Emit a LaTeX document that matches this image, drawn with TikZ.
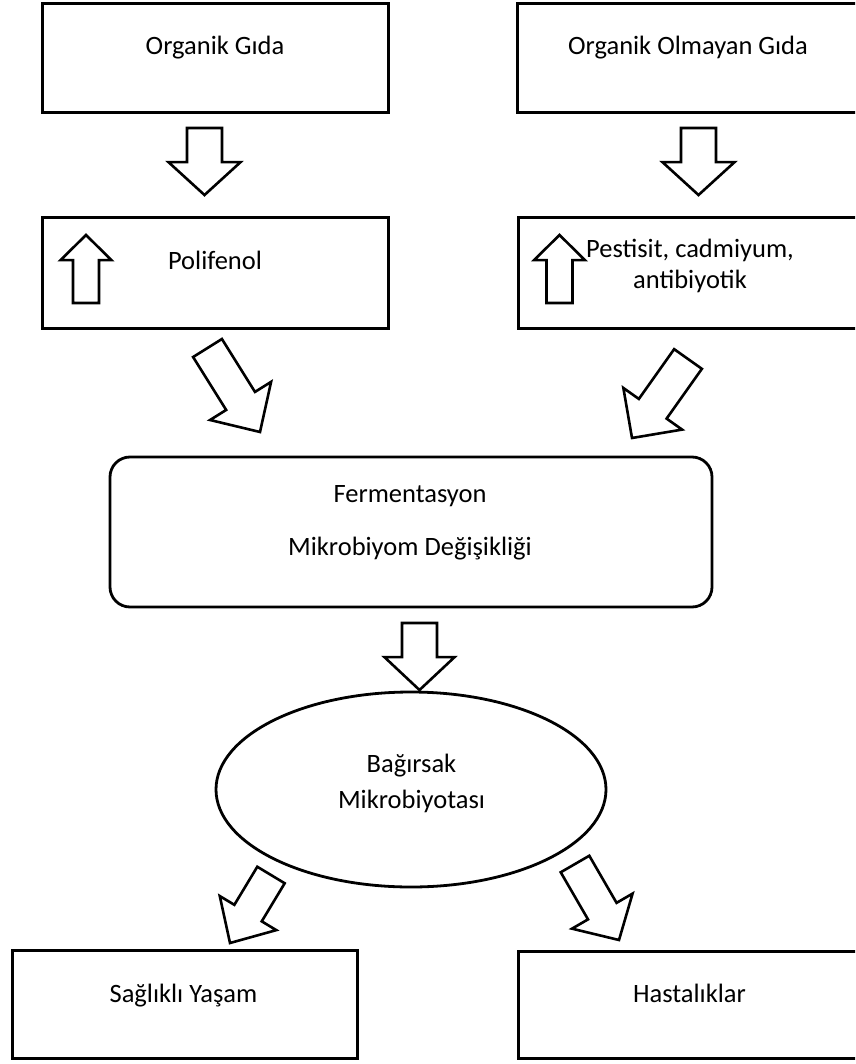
\documentclass[tikz,border=0pt]{standalone}
\usepackage{fontspec}
\setmainfont{Carlito}
\usetikzlibrary{positioning,calc,shapes.geometric}

% hollow block arrow from tail #1 to tip #2, neck at fraction #3, half widths #4 (shaft) and #5 (head)
\newcommand{\blockarrow}[5]{%
    \coordinate (#1n) at ($(#1)!#3!(#2)$);
    \draw[arrowline] ($(#1)!#4!90:(#2)$) -- ($(#1n)!#4!90:(#2)$) -- ($(#1n)!#5!90:(#2)$) -- (#2)
        -- ($(#1n)!#5!-90:(#2)$) -- ($(#1n)!#4!-90:(#2)$) -- ($(#1)!#4!-90:(#2)$) -- cycle;
}

\begin{document}
\begin{tikzpicture}[x=1pt,y=-1pt,
    box/.style={draw, line width=3pt, minimum width=346pt, minimum height=109pt, inner sep=0pt},
    softbox/.style={draw, line width=2.8pt, rounded corners=20pt, minimum width=602pt, minimum height=150pt, inner sep=0pt},
    oval/.style={draw, ellipse, line width=2.8pt, minimum width=390pt, minimum height=195pt, inner sep=0pt},
    txt/.style={anchor=base, align=center, font=\fontsize{26.5}{31}\selectfont},
    arrowline/.style={draw, line width=2.6pt, fill=white}]
    \useasboundingbox (0,0) rectangle (855,1064);
    \clip (0,0) rectangle (855,1064);
    \node[box] (org) at (215,58.5) {};
    \node[box, minimum width=343pt] (nonorg) at (688.5,58.5) {};
    \node[box, minimum height=110pt] (poly) at (215,273) {};
    \node[box, minimum width=342pt, minimum height=110pt] (pest) at (689,273) {};
    \node[softbox] (ferm) at (411,532) {};
    \node[oval] (gut) at (411,789.5) {};
    \node[box, minimum width=345pt, minimum height=108pt] (health) at (184.5,1004) {};
    \node[box, minimum width=342pt, minimum height=107pt] (disease) at (689,1004.5) {};
    \node[txt] (orgtxt) at (215,55) {Organik Gıda};
    \node[txt] (nonorgtxt) at (688,55) {Organik Olmayan Gıda};
    \node[txt] (polytxt) at (215,270) {Polifenol};
    \node[txt] (pesttxt) at (690,288) {Pestisit, cadmiyum,\\antibiyotik};
    \node[txt] (fermtxt) at (410,555) {Fermentasyon\\[22pt]Mikrobiyom Değişikliği};
    \node[txt] (guttxt) at (411.5,808) {Bağırsak\\[5pt]Mikrobiyotası};
    \node[txt] (healthtxt) at (183.5,1002) {Sağlıklı Yaşam};
    \node[txt] (diseasetxt) at (689.5,1002) {Hastalıklar};
    \coordinate (a1t) at (204.5,128);
    \coordinate (a1h) at (204.5,195);
    \coordinate (a2t) at (698.5,128);
    \coordinate (a2h) at (698.5,195);
    \coordinate (u1t) at (86,303);
    \coordinate (u1h) at (86,235);
    \coordinate (u2t) at (559.5,303);
    \coordinate (u2h) at (559.5,235);
    \coordinate (a3t) at (207.5,348);
    \coordinate (a3h) at (260,432);
    \coordinate (a4t) at (688,359);
    \coordinate (a4h) at (632,438);
    \coordinate (a5t) at (419.5,623);
    \coordinate (a5h) at (419.5,690);
    \coordinate (a6t) at (271,875);
    \coordinate (a6h) at (230,943);
    \coordinate (a7t) at (575,864);
    \coordinate (a7h) at (619,940);
    \blockarrow{a1t}{a1h}{0.51}{17.5pt}{36pt}
    \blockarrow{a2t}{a2h}{0.51}{17.5pt}{36pt}
    \blockarrow{u1t}{u1h}{0.63}{13pt}{25.5pt}
    \blockarrow{u2t}{u2h}{0.63}{13pt}{25.5pt}
    \blockarrow{a3t}{a3h}{0.63}{17pt}{36pt}
    \blockarrow{a4t}{a4h}{0.63}{17pt}{36pt}
    \blockarrow{a5t}{a5h}{0.51}{17.5pt}{35pt}
    \blockarrow{a6t}{a6h}{0.56}{16pt}{33pt}
    \blockarrow{a7t}{a7h}{0.62}{16.5pt}{35pt}
\end{tikzpicture}
\end{document}
